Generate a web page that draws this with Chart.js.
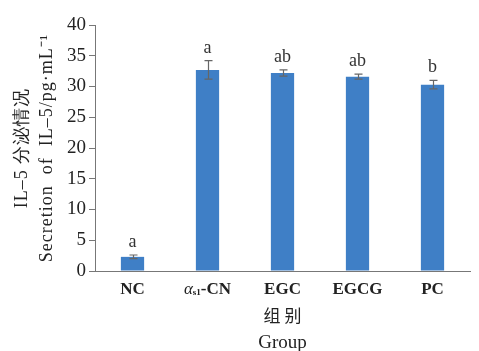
<!DOCTYPE html>
<html>
<head>
<meta charset="utf-8">
<script src="https://cdn.jsdelivr.net/npm/chart.js@4/dist/chart.umd.min.js"></script>
<style>
  html, body { margin: 0; padding: 0; background: #fff; }
  #wrap { width: 479px; height: 351px; }
</style>
</head>
<body>
<div id="wrap"><canvas id="il5Chart" width="479" height="351"></canvas></div>
<script>
const groups = ['NC', 'αs1-CN', 'EGC', 'EGCG', 'PC'];
const meanValues = [2.3, 32.7, 32.2, 31.6, 30.3];
const errorValues = [0.3, 1.5, 0.5, 0.4, 0.7];
const sigLetters = ['a', 'a', 'ab', 'ab', 'b'];
const yTicks = [0, 5, 10, 15, 20, 25, 30, 35, 40];

const serif = '"Liberation Serif", "Times New Roman", serif';
const cjk = '"Noto Sans CJK SC", sans-serif';

// error bars + letters above bars
const errorBarPlugin = {
  id: 'errorBars',
  afterDatasetsDraw(chart) {
    const ctx = chart.ctx;
    const y = chart.scales.y;
    const meta = chart.getDatasetMeta(0);
    ctx.save();
    ctx.strokeStyle = '#666';
    ctx.lineWidth = 1.2;
    meta.data.forEach((bar, i) => {
      const top = y.getPixelForValue(meanValues[i] + errorValues[i]);
      const bot = y.getPixelForValue(meanValues[i] - errorValues[i]);
      const x = Math.round(bar.x) + 0.5;
      ctx.beginPath();
      ctx.moveTo(x, top); ctx.lineTo(x, bot);
      ctx.moveTo(x - 4, top); ctx.lineTo(x + 4, top);
      ctx.moveTo(x - 4, bot); ctx.lineTo(x + 4, bot);
      ctx.stroke();
      ctx.fillStyle = '#333';
      ctx.font = '18px ' + serif;
      ctx.textAlign = 'center';
      ctx.textBaseline = 'alphabetic';
      ctx.fillText(sigLetters[i], bar.x, top - 8);
    });
    ctx.restore();
  }
};

// category labels (with the subscript) and axis titles
const labelPlugin = {
  id: 'labels',
  afterDraw(chart) {
    const ctx = chart.ctx;
    const x = chart.scales.x;
    const area = chart.chartArea;
    ctx.save();
    ctx.fillStyle = '#222';
    ctx.textBaseline = 'alphabetic';
    const baseY = 294;
    groups.forEach((g, i) => {
      const cx = x.getPixelForValue(i);
      if (g === 'αs1-CN') {
        const parts = [
          { t: 'α', f: 'italic 17px ' + serif, dy: 0 },
          { t: 's1', f: 'bold 9px ' + serif, dy: 1 },
          { t: '-CN', f: 'bold 17px ' + serif, dy: 0 }
        ];
        let w = 0;
        parts.forEach(p => { ctx.font = p.f; w += ctx.measureText(p.t).width; });
        let px = cx - w / 2;
        ctx.textAlign = 'left';
        parts.forEach(p => {
          ctx.font = p.f;
          ctx.fillText(p.t, px, baseY + p.dy);
          px += ctx.measureText(p.t).width;
        });
      } else {
        ctx.font = 'bold 17px ' + serif;
        ctx.textAlign = 'center';
        ctx.fillText(g, cx, baseY);
      }
    });

    // x title
    const mid = (area.left + area.right) / 2;
    ctx.textAlign = 'center';
    ctx.font = '17px ' + cjk;
    ctx.fillText('组 别', mid, 322);
    ctx.font = '19px ' + serif;
    ctx.fillText('Group', mid, 348);

    // y title, two rotated lines
    const midY = (area.top + area.bottom) / 2;
    ctx.translate(0, midY);
    ctx.rotate(-Math.PI / 2);
    ctx.letterSpacing = '1px';
    ctx.font = '18px ' + serif;
    ctx.fillText('IL–5 分泌情况', 0, 27);
    ctx.font = '18px ' + serif;
    ctx.fillText('Secretion  of  IL–5/pg·mL⁻¹', 0, 52);
    ctx.restore();
  }
};

new Chart(document.getElementById('il5Chart'), {
  type: 'bar',
  data: {
    labels: groups,
    datasets: [{
      data: meanValues,
      backgroundColor: '#3f7fc6',
      borderWidth: 0,
      barPercentage: 0.31,
      categoryPercentage: 1.0
    }]
  },
  options: {
    responsive: false,
    animation: false,
    layout: { padding: { top: 25, right: 9, left: 0, bottom: 0 } },
    plugins: {
      legend: { display: false },
      tooltip: { enabled: false }
    },
    scales: {
      x: {
        ticks: { display: false },
        grid: { display: false },
        border: { display: true, color: '#777', width: 1 },
        afterFit(scale) { scale.height = 80; }
      },
      y: {
        min: 0,
        max: 40,
        afterBuildTicks(scale) { scale.ticks = yTicks.map(v => ({ value: v })); },
        ticks: {
          color: '#222',
          font: { family: serif, size: 19 },
          padding: 3
        },
        grid: { display: true, drawOnChartArea: false, drawTicks: true, tickLength: 6, color: '#777' },
        border: { display: true, color: '#777', width: 1 },
        afterFit(scale) { scale.width = 95; }
      }
    }
  },
  plugins: [errorBarPlugin, labelPlugin]
});
</script>
</body>
</html>
